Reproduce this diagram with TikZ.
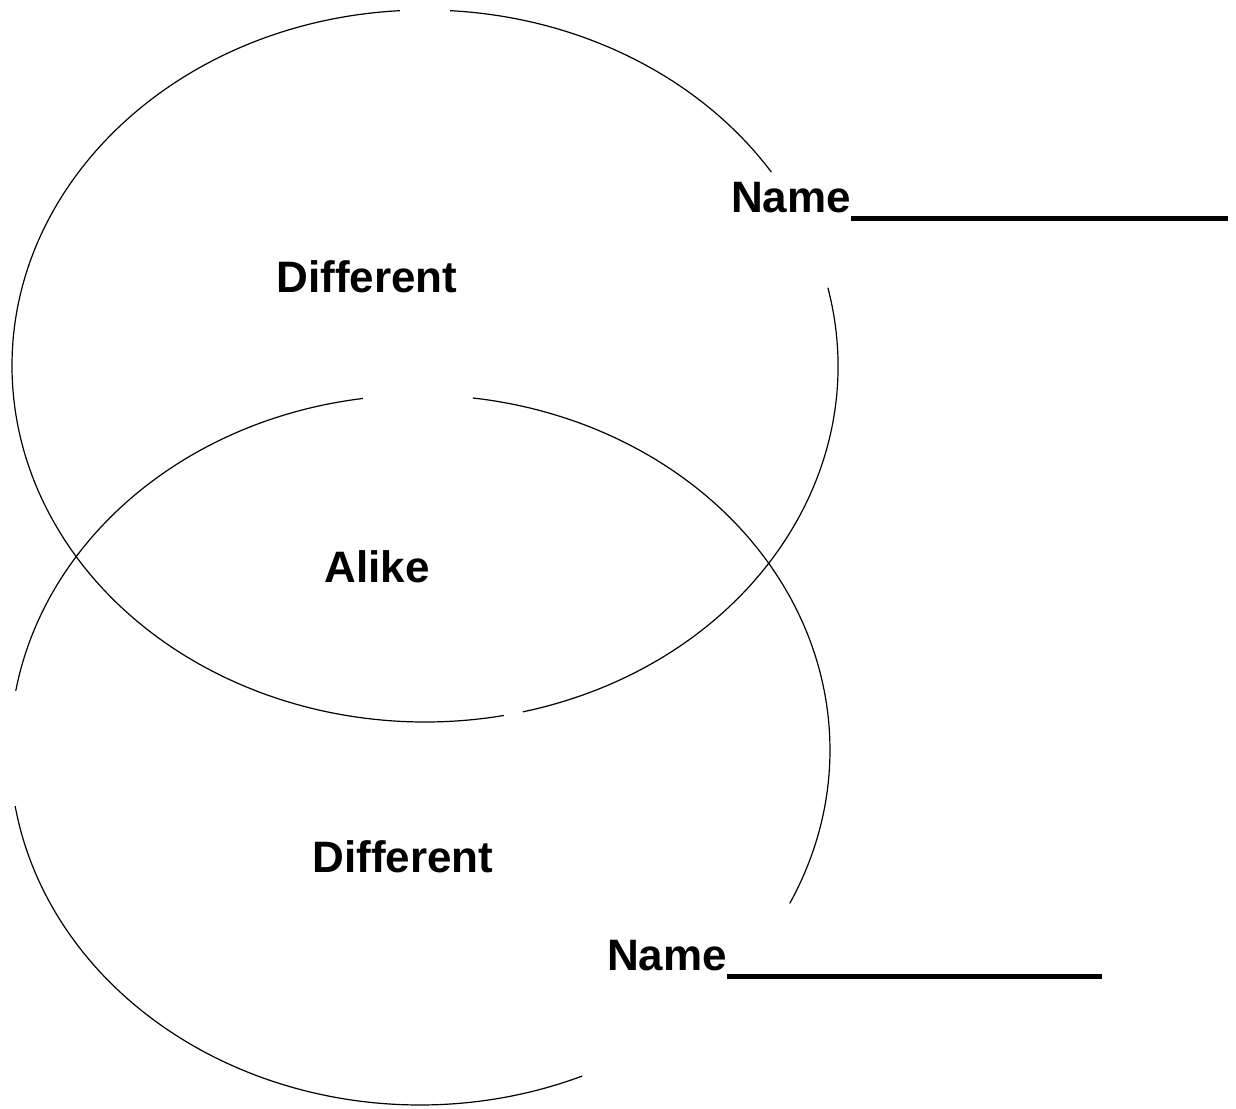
\documentclass[tikz,border=0pt]{standalone}
\usepackage{fontspec}
\setmainfont{Liberation Sans}
\begin{document}
\begin{tikzpicture}[x=1pt,y=-1pt,
  lbl/.style={font=\fontsize{44}{50}\selectfont\bfseries, inner sep=0pt},
  rim/.style={line width=1.2pt, black}]
\useasboundingbox[fill=white] (0,0) rectangle (1236,1108);
\begin{scope}[y=1pt,shift={(425pt,-366pt)}]
  \draw[rim] (33:413pt and 356pt) arc[start angle=33, end angle=86.5, x radius=413pt, y radius=356pt];
  \draw[rim] (93.5:413pt and 356pt) arc[start angle=93.5, end angle=281, x radius=413pt, y radius=356pt];
  \draw[rim] (283.7:413pt and 356pt) arc[start angle=283.7, end angle=372.7, x radius=413pt, y radius=356pt];
\end{scope}
\begin{scope}[y=1pt,shift={(420pt,-750pt)}]
  \draw[rim] (-25.6:410pt and 355pt) arc[start angle=-25.6, end angle=82.6, x radius=410pt, y radius=355pt];
  \draw[rim] (98:410pt and 355pt) arc[start angle=98, end angle=170.4, x radius=410pt, y radius=355pt];
  \draw[rim] (189.1:410pt and 355pt) arc[start angle=189.1, end angle=293.3, x radius=410pt, y radius=355pt];
\end{scope}
\node[lbl, anchor=base] (d1) at (367,292) {Different};
\node[lbl, anchor=base] (al) at (377,582) {Alike};
\node[lbl, anchor=base] (d2) at (403,872) {Different};
\node[lbl, anchor=base west] (n1) at (731,212) {Name\rule[-9pt]{377pt}{5pt}};
\node[lbl, anchor=base west] (n2) at (607,970) {Name\rule[-9pt]{375pt}{5pt}};
\end{tikzpicture}
\end{document}
